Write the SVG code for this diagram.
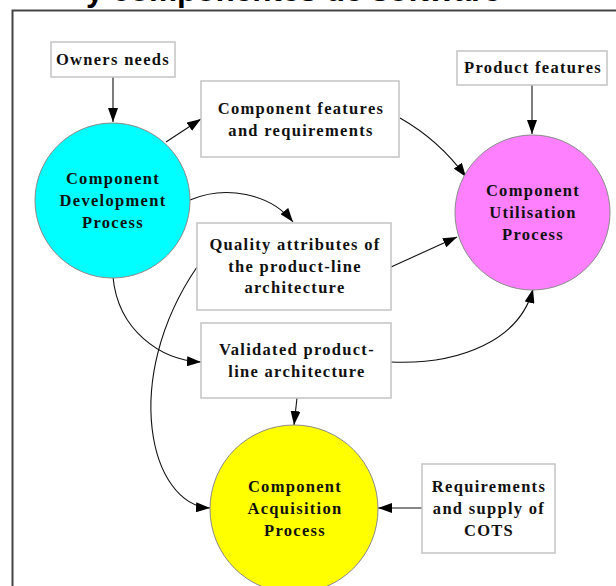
<svg xmlns="http://www.w3.org/2000/svg" width="616" height="586" viewBox="0 0 616 586">
  <style>
    .box { fill: #ffffff; stroke: #c4c4c4; stroke-width: 1.5; }
    .proc { stroke: #8a8a8a; stroke-width: 1; }
    .lbl { font-family: "Liberation Serif", "Times New Roman", serif; font-weight: bold; font-size: 16.5px; letter-spacing: 1.3px; fill: #111111; text-anchor: middle; }
    .edge { fill: none; stroke: #111111; stroke-width: 1.1; marker-end: url(#arrow); }
    .title { font-family: "Liberation Sans", Arial, sans-serif; font-weight: bold; font-size: 31.5px; fill: #000000; }
  </style>
  <defs>
    <marker id="arrow" markerUnits="userSpaceOnUse" markerWidth="14" markerHeight="10" refX="14" refY="5" orient="auto">
      <path d="M0,0 L14,5 L0,10 Z" fill="#000000"/>
    </marker>
  </defs>
  <rect width="616" height="586" fill="#ffffff"/>

  <!-- slide title, clipped by the top edge -->
  <text class="title" x="86" y="1">y componentes de software</text>

  <!-- frame -->
  <path d="M12.5,586 L12.5,10.5 L616,10.5" fill="none" stroke="#444444" stroke-width="2"/>

  <g id="connectors">
    <line class="edge" x1="113" y1="77" x2="113" y2="122"/>
    <line class="edge" x1="532" y1="85" x2="532" y2="134"/>
    <line class="edge" x1="166" y1="142" x2="201" y2="119"/>
    <path class="edge" d="M190,200 C225,185 270,193 293,222"/>
    <path class="edge" d="M113,277 C118,330 160,360 201,362"/>
    <path class="edge" d="M197,267 C120,380 150,505 210,508"/>
    <path class="edge" d="M400,118 C430,135 450,155 466,177"/>
    <line class="edge" x1="391" y1="267" x2="457" y2="237"/>
    <path class="edge" d="M391,362 C460,365 520,340 533,289"/>
    <line class="edge" x1="297" y1="398" x2="294" y2="425"/>
    <line class="edge" x1="422" y1="508" x2="378" y2="508"/>
  </g>

  <g id="owners-needs">
    <rect class="box" x="51" y="42" width="124" height="35"/>
    <text class="lbl" x="113" y="65">Owners needs</text>
  </g>

  <g id="product-features">
    <rect class="box" x="457" y="51" width="150" height="34"/>
    <text class="lbl" x="533" y="73">Product features</text>
  </g>

  <g id="component-features">
    <rect class="box" x="201" y="81" width="198" height="76"/>
    <text class="lbl" x="301" y="114">Component features</text>
    <text class="lbl" x="301" y="136">and requirements</text>
  </g>

  <g id="quality-attributes">
    <rect class="box" x="197" y="223" width="194" height="87"/>
    <text class="lbl" x="295" y="250">Quality attributes of</text>
    <text class="lbl" x="295" y="272">the product-line</text>
    <text class="lbl" x="295" y="293">architecture</text>
  </g>

  <g id="validated-architecture">
    <rect class="box" x="201" y="323" width="190" height="75"/>
    <text class="lbl" x="297" y="355">Validated product-</text>
    <text class="lbl" x="297" y="377">line architecture</text>
  </g>

  <g id="requirements-cots">
    <rect class="box" x="422" y="464" width="133" height="89"/>
    <text class="lbl" x="489" y="492">Requirements</text>
    <text class="lbl" x="489" y="514">and supply of</text>
    <text class="lbl" x="489" y="536">COTS</text>
  </g>

  <g id="development-process">
    <circle class="proc" cx="112.5" cy="200.5" r="77.5" fill="#00ffff"/>
    <text class="lbl" x="113" y="184">Component</text>
    <text class="lbl" x="113" y="206">Development</text>
    <text class="lbl" x="113" y="228">Process</text>
  </g>

  <g id="utilisation-process">
    <circle class="proc" cx="532.5" cy="212.5" r="77.5" fill="#ff80ff"/>
    <text class="lbl" x="533" y="196">Component</text>
    <text class="lbl" x="533" y="218">Utilisation</text>
    <text class="lbl" x="533" y="240">Process</text>
  </g>

  <g id="acquisition-process">
    <circle class="proc" cx="294" cy="509" r="84" fill="#ffff00"/>
    <text class="lbl" x="295" y="492">Component</text>
    <text class="lbl" x="295" y="514">Acquisition</text>
    <text class="lbl" x="295" y="536">Process</text>
  </g>
</svg>
